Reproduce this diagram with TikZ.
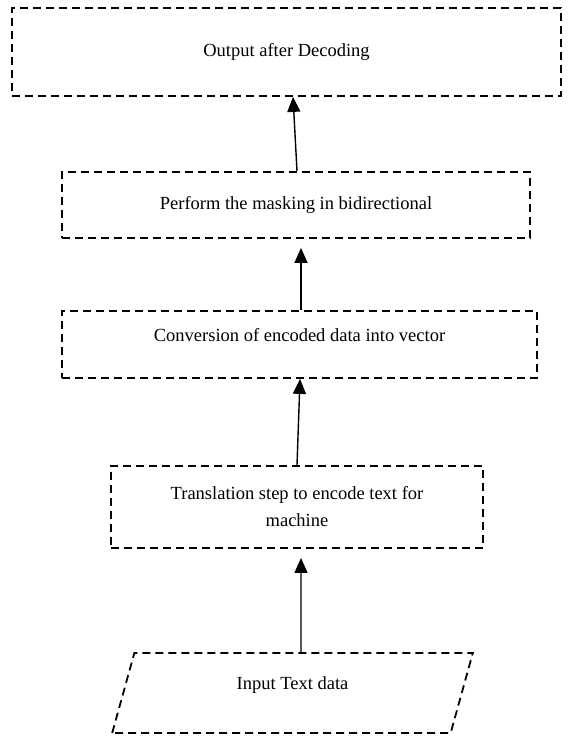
\documentclass[tikz,border=0pt]{standalone}
\usepackage{fontspec}
\setmainfont{Liberation Serif}
\usetikzlibrary{shapes.geometric,arrows.meta}

\begin{document}
\begin{tikzpicture}[x=1pt,y=-1pt,
    stepbox/.style={draw=black,line width=1.8pt,dash pattern=on 8pt off 5pt,
        rectangle,inner sep=0pt,align=center,font=\fontsize{18.5}{27}\selectfont},
    flow/.style={line width=1.4pt,-{Triangle[length=15pt,width=13pt]}}]
    \useasboundingbox (0,0) rectangle (573,736);

    \node[stepbox,minimum width=549pt,minimum height=88pt] (output) at (286.5,52) {Output after Decoding};
    \node[stepbox,minimum width=468pt,minimum height=66pt] (masking) at (296,205) {Perform the masking in bidirectional};
    \node[stepbox,minimum width=475pt,minimum height=67pt,text depth=20pt] (vector) at (299.5,344.5) {Conversion of encoded data into vector};
    \node[stepbox,minimum width=372pt,minimum height=82pt] (encode) at (297,507) {Translation step to encode text for\\ machine};
    \node[stepbox,trapezium,trapezium left angle=76.6,trapezium right angle=103.4,trapezium stretches=true,
        minimum width=361pt,minimum height=80pt,text depth=20pt] (input) at (292.5,693) {Input Text data};

    \draw[flow] ([xshift=8.5pt]input.north) -- ([xshift=4pt]encode.south) [shorten >=9pt];
    \draw[flow] (encode.north) -- ([xshift=0.5pt]vector.south);
    \draw[flow] ([xshift=1.5pt]vector.north) -- ([xshift=5pt]masking.south) [shorten >=9pt];
    \draw[flow] ([xshift=1pt]masking.north) -- ([xshift=6.5pt]output.south);
\end{tikzpicture}
\end{document}
